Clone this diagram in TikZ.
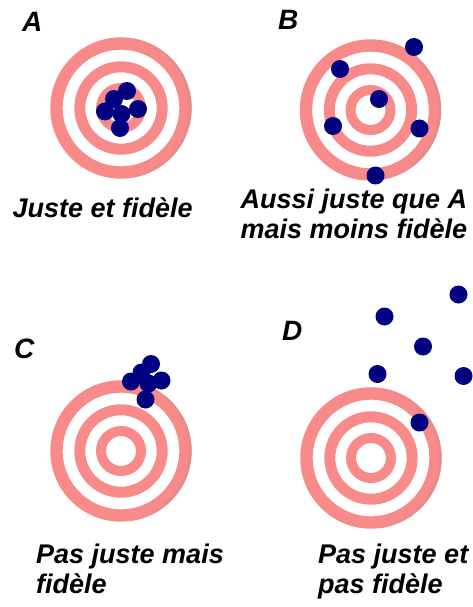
\documentclass[tikz,border=0pt]{standalone}
\usepackage{fontspec}
\setmainfont{Liberation Sans}
\definecolor{ringpink}{HTML}{F88A8A}
\definecolor{ringshade}{HTML}{D98A8E}
\definecolor{shot}{HTML}{000080}
\tikzset{
  ringline/.style={draw=ringpink, line width=#1},
  shade edge/.style={draw=ringshade, line width=3pt},
  hit/.style={fill=shot},
  caption/.style={anchor=base west, inner sep=0pt, font=\fontsize{27}{30}\selectfont\bfseries\itshape},
  tag/.style={anchor=base west, inner sep=0pt, font=\fontsize{28}{30}\selectfont\bfseries\itshape}
}
% a target: three concentric rings around the given centre
\newcommand{\target}[2]{%
  \draw[ringline=10pt]   (#1,#2) circle[radius=20];
  \draw[ringline=11pt]   (#1,#2) circle[radius=41.2];
  \draw[ringline=12.4pt] (#1,#2) circle[radius=64.5];
  \draw[shade edge, opacity=0.55] ([shift={(-50:69.2)}]#1,#2) arc[start angle=-50, end angle=50, radius=69.2];
  \draw[shade edge, opacity=0.25] ([shift={(-80:69.2)}]#1,#2) arc[start angle=-80, end angle=-50, radius=69.2];
  \draw[shade edge, opacity=0.25] ([shift={(50:69.2)}]#1,#2) arc[start angle=50, end angle=80, radius=69.2];
}
\newcommand{\hitat}[2]{\fill[hit] (#1,#2) circle[radius=9];}
\begin{document}
\begin{tikzpicture}[x=1pt, y=-1pt]
\useasboundingbox (0,0) rectangle (473,607);

% A: accurate and precise
\target{121}{108}
\hitat{127}{91} \hitat{114}{99} \hitat{105}{111.5} \hitat{138}{109}
\hitat{120}{128} \hitat{121.5}{114}

% B: accurate on average, scattered
\target{370.5}{110}
\hitat{414}{47} \hitat{340}{69} \hitat{379}{99} \hitat{333}{126}
\hitat{419.5}{128.5} \hitat{375.5}{175.5}

% C: biased but tight
\target{121}{451}
\hitat{151}{364} \hitat{141.5}{372.5} \hitat{131}{381.5} \hitat{161.5}{380.5}
\hitat{145.5}{399.5} \hitat{148.5}{383.5}

% D: biased and scattered
\target{371}{458}
\hitat{458.5}{294.5} \hitat{384.5}{316.5} \hitat{423}{346.5} \hitat{377.5}{374}
\hitat{463.5}{376} \hitat{419.5}{422.5}

% panel letters
\node[tag] (tA) at (22,32) {A};
\node[tag] (tB) at (278,29.5) {B};
\node[tag] (tC) at (14,358) {C};
\node[tag] (tD) at (282,340) {D};

% captions
\node[caption] (cA) at (12.5,217) {Juste et fidèle};
\node[caption] (cB1) at (240.5,208) {Aussi juste que A};
\node[caption] (cB2) at (240.5,238) {mais moins fidèle};
\node[caption] (cC1) at (36,563) {Pas juste mais};
\node[caption] (cC2) at (36,593) {fidèle};
\node[caption] (cD1) at (318,563) {Pas juste et};
\node[caption] (cD2) at (318,593) {pas fidèle};
\end{tikzpicture}
\end{document}
